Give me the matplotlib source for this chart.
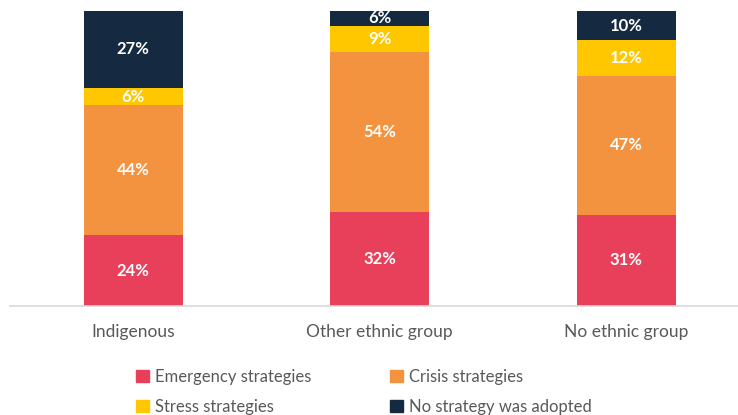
import matplotlib.pyplot as plt
from matplotlib.patches import Patch
import numpy as np

plt.rcParams['font.family'] = ['Lato', 'DejaVu Sans']

groups = ['Indigenous', 'Other ethnic group', 'No ethnic group']
series = ['Emergency strategies', 'Crisis strategies', 'Stress strategies', 'No strategy was adopted']
emergency = [24, 32, 31]
crisis = [44, 54, 47]
stress = [6, 9, 12]
no_strategy = [27, 6, 10]
colors = ['#E8405A', '#F3923F', '#FFC700', '#152A40']

fig = plt.figure(figsize=(7.38, 4.15), dpi=100)
ax = fig.add_axes([10/738, 1 - 306/415, 739.5/738, 295/415])

x = np.arange(len(groups))
bottom = np.zeros(len(groups))
for vals, col in zip([emergency, crisis, stress, no_strategy], colors):
    vals = np.array(vals, dtype=float)
    ax.bar(x, vals, bottom=bottom, width=0.4, color=col, zorder=2)
    for xi, b, v in zip(x, bottom, vals):
        yc = min(b + v / 2, (b + 100) / 2)
        ax.text(xi, yc, f'{int(v)}%', ha='center', va='center', color='white',
                fontsize=12, fontweight='bold', zorder=3)
    bottom += vals

ax.set_xlim(-0.5, 2.5)
ax.set_ylim(0, 100)
ax.set_yticks([])
ax.set_xticks(x)
ax.set_xticklabels(groups, fontsize=12.5, color='#595959')
ax.tick_params(axis='x', length=0, pad=13)
for s in ['top', 'right', 'left']:
    ax.spines[s].set_visible(False)
ax.spines['bottom'].set_color('#D9D9D9')
ax.spines['bottom'].set_linewidth(1.2)

# legend fills column-wise, so reorder to read row-wise
order = [0, 2, 1, 3]
handles = [Patch(color=colors[i]) for i in order]
labels = [series[i] for i in order]
fig.legend(handles, labels, ncol=2, loc='upper left', bbox_to_anchor=(129/738, 1 - 362/415),
           frameon=False, fontsize=12, labelcolor='#595959', handlelength=0.8, handleheight=0.8,
           handletextpad=0.35, columnspacing=4.7, labelspacing=0.85, borderaxespad=0)

fig.savefig('out.png', dpi=100)
